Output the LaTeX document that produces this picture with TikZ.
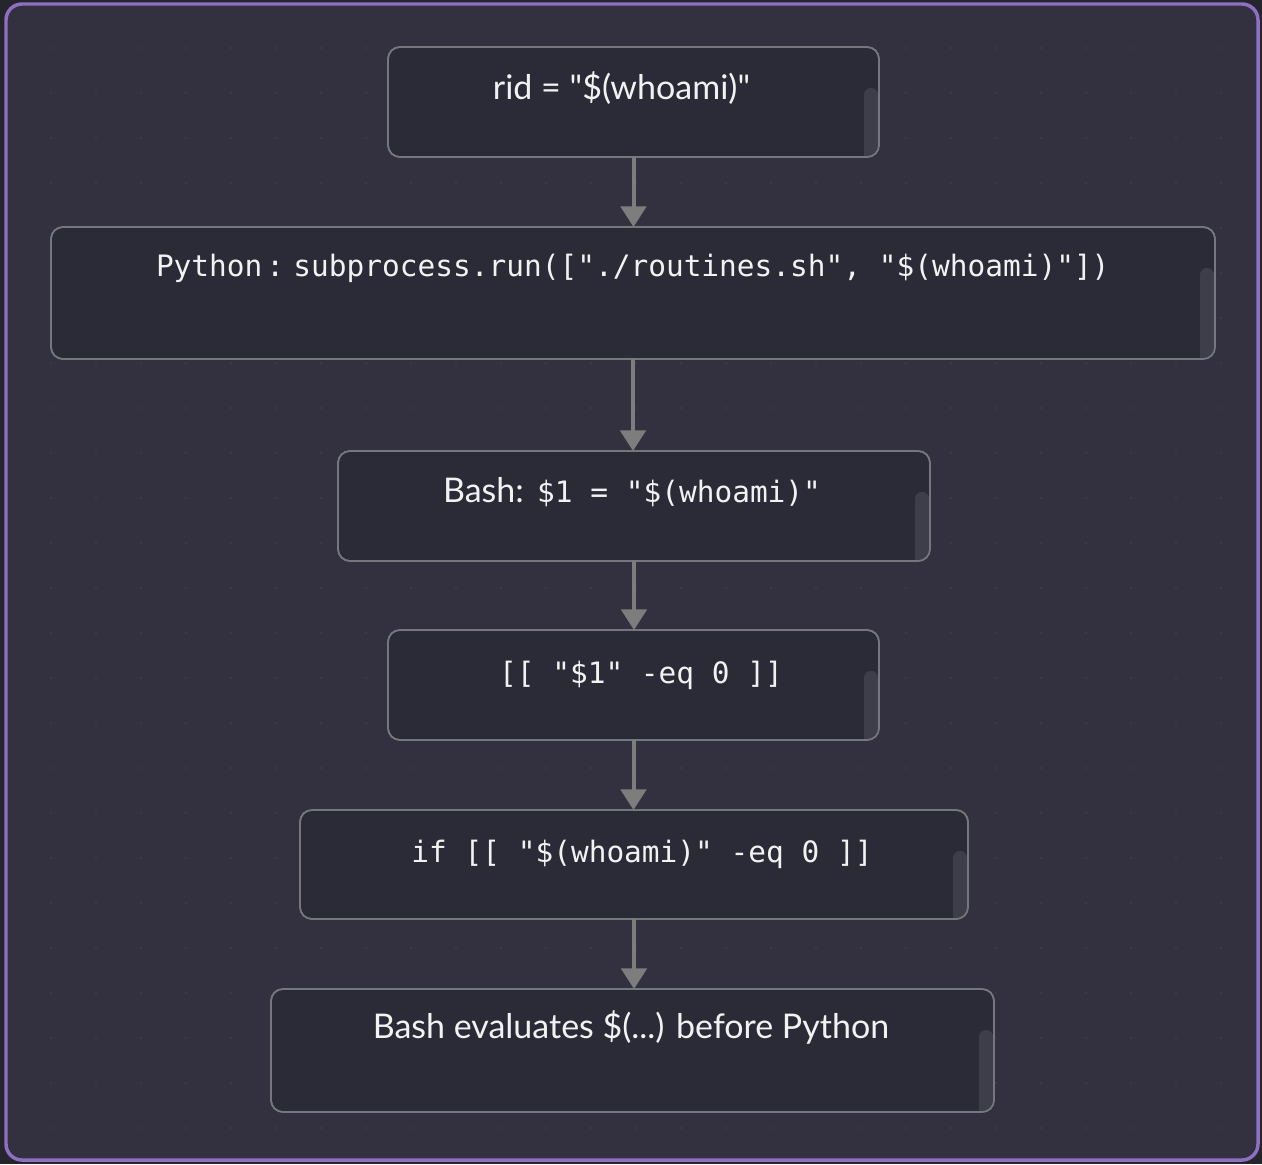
\documentclass[tikz,border=0pt]{standalone}
\usepackage{fontspec}
\setmainfont{Lato}
\newfontfamily\monof{DejaVu Sans Mono}
\newfontfamily\sansf{Lato}
\usetikzlibrary{arrows.meta}
\definecolor{outerbg}{HTML}{25252E}
\definecolor{framebg}{HTML}{33313F}
\definecolor{framebd}{HTML}{8E6FC1}
\definecolor{boxbg}{HTML}{2A2B37}
\definecolor{boxbd}{HTML}{76767E}
\definecolor{scrollc}{HTML}{3D3E4A}
\definecolor{arrowc}{HTML}{7D7D7D}
\definecolor{dotc}{HTML}{3C3A4A}
\definecolor{txt}{HTML}{F2F2F2}
\newcommand{\sansfs}{\sansf\fontsize{25.5pt}{30pt}\selectfont}
\newcommand{\monofs}{\monof\fontsize{22.1pt}{26pt}\selectfont}
\tikzset{
  stepbox/.style={draw=boxbd, line width=1.2pt, fill=boxbg, rounded corners=9pt,
    inner sep=0pt, outer sep=0pt},
  boxtext/.style={text=txt, inner sep=0pt, outer sep=0pt, anchor=base},
  sanstxt/.style={boxtext, font=\sansfs},
  monotxt/.style={boxtext, font=\monofs},
  flow/.style={draw=arrowc, line width=3pt,
    -{Triangle[width=19pt,length=15.5pt]}},
  scrollbar/.style={fill=scrollc, rounded corners=5pt}
}
\begin{document}
\begin{tikzpicture}[x=0.75pt,y=-0.75pt]
\useasboundingbox (0,0) rectangle (1262,1164);
\fill[outerbg] (0,0) rectangle (1262,1164);
\draw[framebd, fill=framebg, line width=2.6pt, rounded corners=12pt] (6,4) rectangle (1258,1160);
% dot grid
\foreach \i in {0,...,26} {
  \foreach \j in {0,...,24} {
    \fill[dotc] ({51+45*\i},{48+45*\j}) circle (1.3);
  }
}
% boxes: name, center x, center y, width, height
\foreach \n/\cx/\cy/\w/\h in {b1/633.5/102/491/110, b2/633/293/1164/132, b3/634/506/592/110,
    b4/633.5/685/491/110, b5/634/864.5/668/109, b6/632.5/1050.5/723/123} {
  \node[stepbox, minimum width={\w*0.75pt}, minimum height={\h*0.75pt}] (\n) at (\cx,\cy) {};
  \begin{scope}
    \clip[rounded corners=9pt] ({\cx-\w/2},{\cy-\h/2}) rectangle ({\cx+\w/2},{\cy+\h/2});
    \fill[scrollbar] ({\cx+\w/2-15},{\cy-\h/2+41}) rectangle ({\cx+\w/2-1},{\cy+\h/2+10});
  \end{scope}
  \draw[boxbd, line width=1.2pt, rounded corners=9pt] ({\cx-\w/2},{\cy-\h/2}) rectangle ({\cx+\w/2},{\cy+\h/2});
}
% texts
\node[sanstxt] (t1) at (621.5,99) {rid = "\$(whoami)"};
\node[monotxt, anchor=base west] (t2) at (156,276) {Python\hspace{3pt}:\hspace{7pt}subprocess.run(["./routines.sh", "\$(whoami)"])};
\node[boxtext, anchor=base west] (t3) at (443,502) {{\sansfs Bash:}\hspace{10pt}{\monofs \$1 = "\$(whoami)"}};
\node[monotxt] (t4) at (641,683) {[[ "\$1" -eq 0 ]]};
\node[monotxt] (t5) at (642,862) {if [[ "\$(whoami)" -eq 0 ]]};
\node[sanstxt] (t6) at (631,1038) {Bash evaluates \$(...) before Python};
% connectors
\draw[flow] (b1.south) -- (b1.south |- b2.north);
\draw[flow] (b2.south) -- (b2.south |- b3.north);
\draw[flow] (b3.south) -- (b3.south |- b4.north);
\draw[flow] (b4.south) -- (b4.south |- b5.north);
\draw[flow] (b5.south) -- (b5.south |- b6.north);
\end{tikzpicture}
\end{document}
